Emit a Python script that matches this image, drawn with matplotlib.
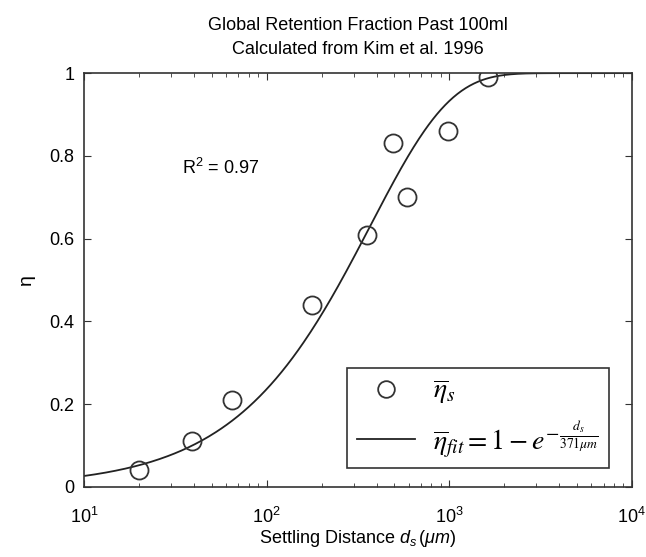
import numpy as np
import matplotlib
matplotlib.use('Agg')
import matplotlib.pyplot as plt
from matplotlib.lines import Line2D
from matplotlib.font_manager import FontProperties

plt.rcParams['font.family'] = ['Liberation Sans', 'DejaVu Sans']
plt.rcParams['mathtext.fontset'] = 'custom'
plt.rcParams['mathtext.it'] = 'Liberation Sans:italic'
plt.rcParams['mathtext.rm'] = 'Liberation Sans'

# settling distance (um) and measured retention fraction
settling_distance = [20, 39, 65, 177, 354, 491, 586, 982, 1630]
retention = [0.04, 0.11, 0.21, 0.44, 0.61, 0.83, 0.70, 0.86, 0.99]
fit_length = 371.0
r_squared = 0.97

d_fit = np.logspace(1, 4, 400)
eta_fit = 1 - np.exp(-d_fit / fit_length)

fig = plt.figure(figsize=(6.46, 5.57), dpi=100)
ax = fig.add_axes([0.130, 0.1257, 0.848, 0.743])

ax.plot(d_fit, eta_fit, color='#222222', lw=1.3)
ax.plot(settling_distance, retention, 'o', ms=13, mfc='none', mec='#333333', mew=1.3)

ax.set_xscale('log')
ax.set_xlim(10, 1e4)
ax.set_ylim(0, 1)
ax.set_yticks([0, 0.2, 0.4, 0.6, 0.8, 1])
ax.set_yticklabels(['0', '0.2', '0.4', '0.6', '0.8', '1'])
ax.tick_params(which='both', direction='in', top=True, right=True,
               labelsize=13, color='#333333')
ax.tick_params(which='major', length=5)
ax.tick_params(which='minor', length=3)
ax.tick_params(axis='x', pad=14)
ax.tick_params(axis='y', pad=7)
for s in ax.spines.values():
    s.set_linewidth(1.2)
    s.set_color('#333333')

ax.set_title('Global Retention Fraction Past 100ml\nCalculated from Kim et al. 1996',
             fontsize=13, pad=14, linespacing=1.5)
ax.set_xlabel(r'Settling Distance $d_s\,(\mu m)$', fontsize=13, labelpad=1)
ax.set_ylabel('η', fontsize=14, labelpad=10, rotation=90)

ax.text(0.179, 0.77, r'R$^2$ = %.2f' % r_squared, transform=ax.transAxes,
        fontsize=13, va='center', ha='left')

handles = [
    Line2D([], [], ls='none', marker='o', ms=12, mfc='none', mec='#333333', mew=1.3),
    Line2D([], [], color='#222222', lw=1.3),
]
labels = [r'$\overline{\eta}_s$',
          r'$\overline{\eta}_{fit} = 1 - e^{-\frac{d_s}{371\mu m}}$']
leg_font = FontProperties(size=20, math_fontfamily='stix')
leg = ax.legend(handles, labels, loc='lower right', bbox_to_anchor=(0.958, 0.045),
                prop=leg_font, frameon=True, fancybox=False, edgecolor='#333333',
                framealpha=1, handlelength=2.1, labelspacing=0.45, borderpad=0.35,
                handletextpad=0.65, borderaxespad=0)
leg.get_frame().set_linewidth(1.2)

fig.savefig('out.png', dpi=100)
